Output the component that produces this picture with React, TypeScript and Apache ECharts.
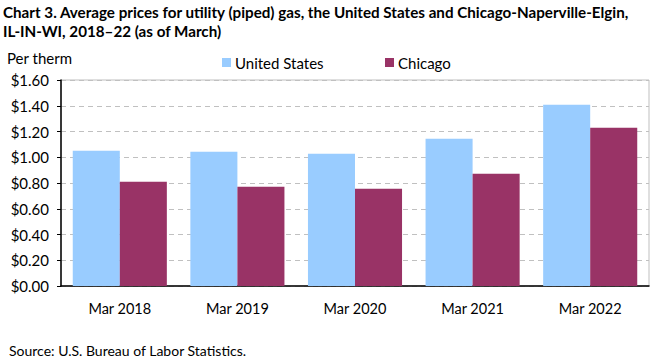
import React, { useEffect, useRef } from "react";
import * as echarts from "echarts";

const categories = ["Mar 2018", "Mar 2019", "Mar 2020", "Mar 2021", "Mar 2022"];
const usValues = [1.051, 1.043, 1.028, 1.144, 1.408];
const chicagoValues = [0.81, 0.771, 0.756, 0.872, 1.229];
const titleLines = [
  "Chart 3. Average prices for utility (piped) gas, the United States and Chicago-Naperville-Elgin,",
  "IL-IN-WI, 2018–22 (as of March)",
];
const sourceText = "Source: U.S. Bureau of Labor Statistics.";
const unitText = "Per therm";

const FONT = "Lato";

export default function App() {
  const ref = useRef<HTMLDivElement>(null);
  useEffect(() => {
    if (!ref.current) return;
    const chart = echarts.init(ref.current, undefined, { renderer: "svg" });
    const legendText = { fontFamily: FONT, fontSize: 15, color: "#000" };
    chart.setOption({
      animation: false,
      backgroundColor: "#ffffff",
      textStyle: { fontFamily: FONT },
      graphic: [
        {
          type: "text",
          left: 3,
          top: 4,
          style: {
            text: titleLines[0],
            fontFamily: FONT,
            fontSize: 15.2,
            fontWeight: "bold",
            fill: "#000",
          },
        },
        {
          type: "text",
          left: 3,
          top: 23,
          style: {
            text: titleLines[1],
            fontFamily: FONT,
            fontSize: 15.2,
            fontWeight: "bold",
            fill: "#000",
          },
        },
        {
          type: "text",
          left: 7,
          top: 50,
          style: { text: unitText, fontFamily: FONT, fontSize: 15, fill: "#000" },
        },
        {
          type: "text",
          left: 9,
          top: 343,
          style: { text: sourceText, fontFamily: FONT, fontSize: 14, fill: "#000" },
        },
      ],
      legend: [
        {
          left: 222,
          top: 55,
          padding: 0,
          itemWidth: 9,
          itemHeight: 9,
          icon: "rect",
          textStyle: { ...legendText, padding: [0, 0, 0, -1] },
          data: ["United States"],
        },
        {
          left: 385,
          top: 55,
          padding: 0,
          itemWidth: 9,
          itemHeight: 9,
          icon: "rect",
          textStyle: { ...legendText, padding: [0, 0, 0, -1] },
          data: ["Chicago"],
        },
      ],
      grid: {
        left: 61,
        right: 12,
        top: 80,
        bottom: 75,
        show: true,
        borderColor: "#bfbfbf",
        borderWidth: 1,
      },
      xAxis: {
        type: "category",
        data: categories,
        axisLine: { lineStyle: { color: "#000", width: 1.5 } },
        axisTick: { show: false },
        axisLabel: { fontFamily: FONT, fontSize: 14.5, color: "#000", margin: 15 },
      },
      yAxis: {
        type: "value",
        min: 0,
        max: 1.6,
        interval: 0.2,
        axisLine: { show: true, lineStyle: { color: "#000", width: 1.5 } },
        axisTick: { show: true, length: 4, lineStyle: { color: "#000" } },
        axisLabel: {
          fontFamily: FONT,
          fontSize: 15,
          color: "#000",
          margin: 12,
          formatter: (v: number) => "$" + v.toFixed(2),
        },
        splitLine: { lineStyle: { color: "#c0c0c0", type: [5, 4] } },
      },
      series: [
        {
          name: "United States",
          type: "bar",
          data: usValues,
          itemStyle: { color: "#99ccff" },
          barGap: "0%",
          barCategoryGap: "20%",
        },
        {
          name: "Chicago",
          type: "bar",
          data: chicagoValues,
          itemStyle: { color: "#993366" },
          barGap: "0%",
          barCategoryGap: "20%",
        },
      ],
    });
    return () => chart.dispose();
  }, []);
  return <div ref={ref} style={{ width: 661, height: 361, position: "absolute", left: 0, top: 0 }} />;
}
